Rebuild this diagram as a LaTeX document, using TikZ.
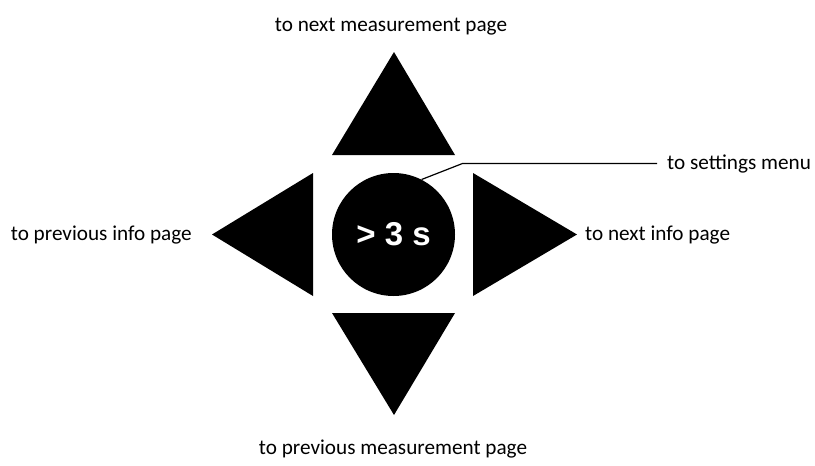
\documentclass[tikz,border=0pt]{standalone}
\usepackage{fontspec}
\setmainfont{Carlito}
\newfontfamily\arialbold{Liberation Sans}
\begin{document}
\begin{tikzpicture}[x=1pt,y=-1pt,
  lbl/.style={inner sep=0pt,font=\fontsize{21.2}{25}\selectfont},
  tri/.style={fill=black,draw=none}]
\useasboundingbox (0,0) rectangle (815,466);
% triangles
\fill[tri] (394,52) -- (455,155) -- (332,155) -- cycle;
\fill[tri] (332,313) -- (455,313) -- (394,415) -- cycle;
\fill[tri] (212,234.5) -- (313,173) -- (313,296) -- cycle;
\fill[tri] (577,234.5) -- (473,173) -- (473,296) -- cycle;
% circle
\node[circle,fill=black,minimum size=123pt,inner sep=0pt,text=white,
  font=\arialbold\bfseries\fontsize{33}{38}\selectfont] (btn) at (393.5,234.5) {> 3 s};
% labels
\node[lbl] (top) at (391,27) {to next measurement page};
\node[lbl] (bot) at (393,449) {to previous measurement page};
\node[lbl,anchor=east] (left) at (192,235) {to previous info page};
\node[lbl,anchor=west] (right) at (585,235) {to next info page};
\node[lbl,anchor=west] (set) at (667,163.5) {to settings menu};
\coordinate (kn) at (462.5,163.5);
\draw[line width=1.2pt] (btn.63) -- (kn) -- ([xshift=-10pt]set.west);
\end{tikzpicture}
\end{document}
